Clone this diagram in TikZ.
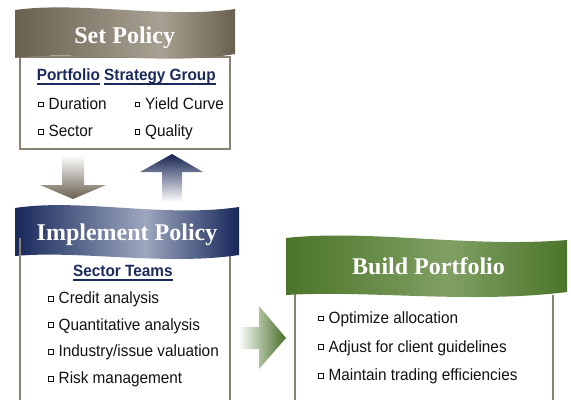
\documentclass[tikz,border=0pt]{standalone}
\usepackage{fontspec}
\setmainfont{Liberation Serif}
\newfontfamily\arial[FakeStretch=0.94]{Liberation Sans}
\definecolor{tpD}{HTML}{6A604F}
\definecolor{tpL}{HTML}{A8A193}
\definecolor{nvD}{HTML}{17275A}
\definecolor{nvL}{HTML}{9DA7BE}
\definecolor{grD}{HTML}{4B7429}
\definecolor{grL}{HTML}{80A063}
\definecolor{boxln}{HTML}{8A8272}
\definecolor{navytxt}{HTML}{1B2A5C}
\definecolor{txt}{HTML}{111111}
\pgfdeclarehorizontalshading{setshade}{100bp}{color(0bp)=(tpD); color(25bp)=(tpD); color(58bp)=(tpL); color(75bp)=(tpD); color(100bp)=(tpD)}
\pgfdeclarehorizontalshading{impshade}{100bp}{color(0bp)=(nvD); color(25bp)=(nvD); color(54bp)=(nvL); color(75bp)=(nvD); color(100bp)=(nvD)}
\pgfdeclarehorizontalshading{bldshade}{100bp}{color(0bp)=(grD); color(25bp)=(grD); color(54bp)=(grL); color(75bp)=(grD); color(100bp)=(grD)}
\newcommand\bul{\raisebox{3pt}{\setlength{\fboxrule}{0.75pt}\setlength{\fboxsep}{0pt}\fbox{\rule{0pt}{4pt}\hspace{4pt}}}\hspace{5pt}}
\newcommand\myul[1]{\setbox0\hbox{#1}\rlap{\rule[-4pt]{\wd0}{1.9pt}}\box0}
\tikzset{
  title/.style={anchor=base, inner sep=0, text=white, font=\bfseries\fontsize{24}{28}\selectfont},
  item/.style={anchor=base west, inner sep=0, text=txt, font=\arial\fontsize{16.3}{19}\selectfont},
  hdr/.style={anchor=base west, inner sep=0, text=navytxt, font=\arial\bfseries\fontsize{16.3}{19}\selectfont},
  boxline/.style={draw=boxln, line width=1.5pt},
}
\begin{document}
\begin{tikzpicture}[x=1pt,y=-1pt]
\useasboundingbox (0,0) rectangle (571,400);
% ---- Set Policy ----
\draw[boxline, fill=white] (20,57) rectangle (230,149);
\path[shading=setshade] (15,10) .. controls (80,1) and (165,19) .. (235,9)
  -- (235,54) .. controls (165,66) and (80,50) .. (15,58) -- cycle;
\node[title] (setp) at (124.7,43.3) {Set Policy};
\node[hdr] (h1) at (36.7,80.7) {\myul{Portfolio}};
\node[hdr] (h2) at (104,80.7) {\myul{Strategy Group}};
\node[item] (s1) at (38,109.3) {\bul Duration};
\node[item] (s2) at (134.5,109.3) {\bul Yield Curve};
\node[item] (s3) at (38,136.5) {\bul Sector};
\node[item] (s4) at (134.5,136.5) {\bul Quality};
% ---- arrows between ----
\path[top color=white, bottom color=tpD] (62,155) -- (84,155) -- (84,185) -- (106,185) -- (73,199) -- (40,185) -- (62,185) -- cycle;
\path[top color=nvD!90!black, bottom color=white] (172,154) -- (203,172) -- (182,172) -- (182,202) -- (162,202) -- (162,172) -- (140,172) -- cycle;
% ---- Implement Policy ----
\draw[boxline] (230,255) -- (230,400);
\path[shading=impshade] (15,208) .. controls (80,198) and (165,218) .. (239,207)
  -- (239,255) .. controls (165,266) and (80,250) .. (15,256) -- cycle;
\draw[boxline] (20,238) -- (20,400);
\node[title] (imp) at (127,240) {Implement Policy};
\node[hdr] (h3) at (73,276.5) {\myul{Sector Teams}};
\node[item] (i1) at (48,303.5) {\bul Credit analysis};
\node[item] (i2) at (48,330.2) {\bul Quantitative analysis};
\node[item] (i3) at (48,356.9) {\bul Industry/issue valuation};
\node[item] (i4) at (48,383.6) {\bul Risk management};
% ---- right arrow ----
\path[left color=white, right color=grD!95!black] (238,327) -- (259,327) -- (259,306) -- (286,338) -- (259,369) -- (259,349) -- (238,349) -- cycle;
% ---- Build Portfolio ----
\draw[boxline] (295,292) -- (295,400);
\draw[boxline] (553,295) -- (553,400);
\path[shading=bldshade] (286,238) .. controls (370,229) and (470,248) .. (567,240)
  -- (567,292) .. controls (470,304) and (370,290) .. (286,295) -- cycle;
\node[title] (bld) at (428.5,274.3) {Build Portfolio};
\node[item] (b1) at (318,323.3) {\bul Optimize allocation};
\node[item] (b2) at (318,352) {\bul Adjust for client guidelines};
\node[item] (b3) at (318,380.7) {\bul Maintain trading efficiencies};
\end{tikzpicture}
\end{document}
